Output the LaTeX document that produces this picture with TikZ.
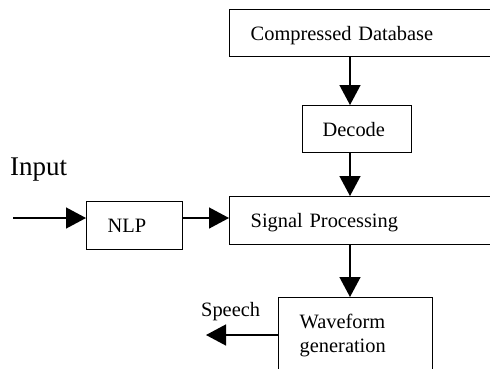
\documentclass[tikz,border=0pt]{standalone}
\usepackage{fontspec}
\setmainfont{Liberation Serif}
\usetikzlibrary{positioning,arrows.meta}
\tikzstyle{block} = [draw, line width=1.4pt, rectangle, align=left, inner xsep=21pt, text height=14pt, text depth=0pt, font=\fontsize{20.4}{24}\selectfont]
\tikzstyle{arrow} = [line width=1.4pt, -{Triangle[length=20pt,width=21pt]}]
\tikzstyle{label} = [inner sep=0pt, font=\fontsize{20.4}{24}\selectfont]

\begin{document}
\begin{tikzpicture}[x=1pt,y=-1pt]
  \path[use as bounding box, clip] (0,0) rectangle (490,368);
  \node[block, anchor=north west, minimum height=47pt, text width=238pt] (cdb) at (229,9) {Compressed Database};
  \node[block, anchor=north west, minimum height=47pt, text width=69pt, inner xsep=20pt] (decode) at (302,105) {Decode};
  \node[block, anchor=north west, minimum height=48pt, text width=238pt] (sp) at (229,196) {Signal Processing};
  \node[block, anchor=north west, minimum height=48pt, text width=54pt] (nlp) at (86,201) {NLP};
  \node[block, anchor=north west, inner ysep=17pt, text depth=70pt, text width=112pt] (wave) at (278,297) {Waveform\\generation};
  \node[label, anchor=base west, font=\fontsize{27}{30}\selectfont] (input) at (10,175) {Input};
  \node[label, anchor=base west] (speech) at (201,316) {Speech};
  \coordinate (axis) at (350,0);
  \coordinate (start) at (13,218);
  \coordinate (out) at (206,335);
  \draw[arrow] (cdb.south -| axis) -- (decode.north -| axis);
  \draw[arrow] (decode.south -| axis) -- (sp.north -| axis);
  \draw[arrow] (sp.south -| axis) -- (wave.north -| axis);
  \draw[arrow] (start) -- (start -| nlp.west);
  \draw[arrow] (nlp.east |- start) -- (sp.west |- start);
  \draw[arrow] (out -| wave.west) -- (out);
\end{tikzpicture}
\end{document}
